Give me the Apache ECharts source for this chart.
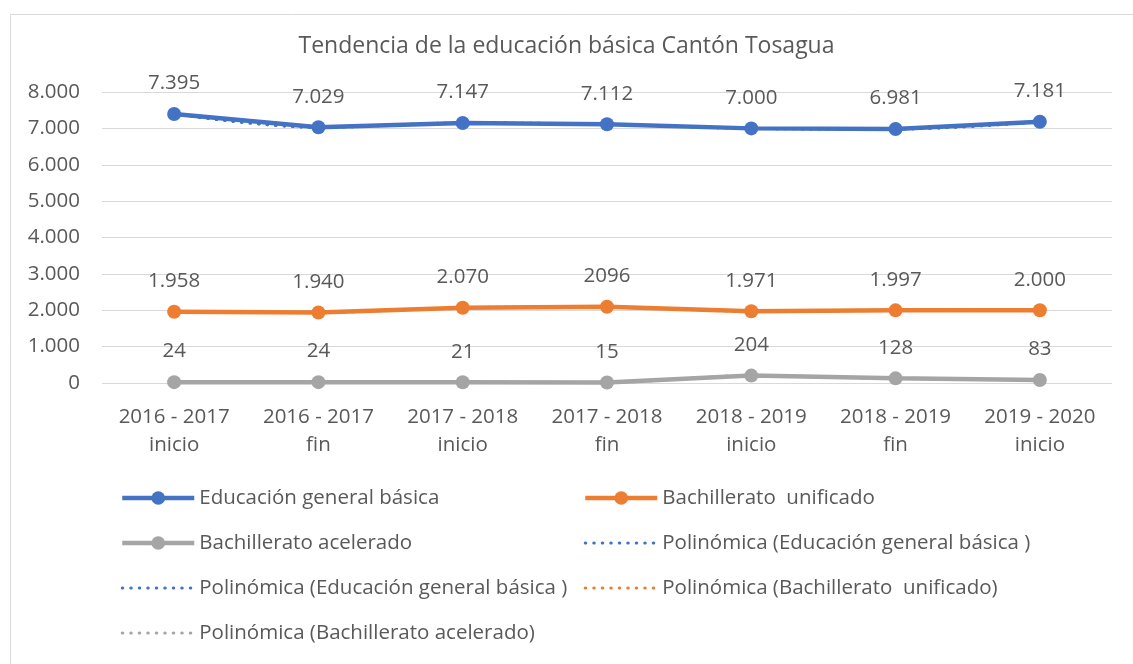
<!DOCTYPE html>
<html>
<head>
<meta charset="utf-8">
<script src="https://cdn.jsdelivr.net/npm/echarts@6/dist/echarts.min.js"></script>
<style>
  html, body { margin: 0; padding: 0; background: #ffffff; }
  #chart { width: 1133px; height: 664px; }
</style>
</head>
<body>
<div id="chart"></div>
<script>
// School years and semester phase for each measurement
const periods = ['2016 - 2017', '2016 - 2017', '2017 - 2018', '2017 - 2018', '2018 - 2019', '2018 - 2019', '2019 - 2020'];
const phases = ['inicio', 'fin', 'inicio', 'fin', 'inicio', 'fin', 'inicio'];

// Enrolment per education level
const educacionGeneralBasica = [7395, 7029, 7147, 7112, 7000, 6981, 7181];
const bachilleratoUnificado = [1958, 1940, 2070, 2096, 1971, 1997, 2000];
const bachilleratoAcelerado = [24, 24, 21, 15, 204, 128, 83];

// Points whose label is printed without a thousands separator
const plainLabelIdx = { 'Bachillerato  unificado': [3] };

// Y axis ticks
const yMin = 0, yMax = 8000, yStep = 1000;

const FONT = '"Open Sans", "Noto Sans", sans-serif';
const TXT = '#595959';
const C_BLUE = '#4472C4', C_ORANGE = '#ED7D31', C_GRAY = '#A5A5A5';

const categories = periods.map((p, i) => p + '\n' + phases[i]);

function fmt(v) {
  return String(v).replace(/\B(?=(\d{3})+(?!\d))/g, '.');
}

function mainSeries(name, data, color) {
  const plain = plainLabelIdx[name] || [];
  return {
    name: name,
    type: 'line',
    data: data,
    z: 3,
    symbol: 'circle',
    symbolSize: 14,
    lineStyle: { color: color, width: 4.5 },
    itemStyle: { color: color },
    label: {
      show: true,
      position: 'top',
      distance: 13,
      color: TXT,
      fontFamily: FONT,
      fontSize: 20.5,
      formatter: p => plain.indexOf(p.dataIndex) >= 0 ? String(p.value) : fmt(p.value)
    }
  };
}

// Round-dotted stroke used by the trend curves
const DOTS = [0.5, 8];

function trendSeries(name, data, color) {
  return {
    name: name,
    type: 'line',
    data: data,
    z: 4,
    smooth: 0.35,
    symbol: 'none',
    lineStyle: { color: color, width: 3, type: DOTS, cap: 'round' },
    itemStyle: { color: color },
    emphasis: { disabled: true }
  };
}

const nEGB = 'Educación general básica';
const nBU = 'Bachillerato  unificado';
const nBA = 'Bachillerato acelerado';
const tEGB1 = 'Polinómica (Educación general básica )';
const tEGB2 = 'Polinómica (Educación general básica ) ';
const tBU = 'Polinómica (Bachillerato  unificado)';
const tBA = 'Polinómica (Bachillerato acelerado)';

// Legend entries: solid series keep their thick line, trend lines show only the dotted stroke
const solidItem = n => ({ name: n, lineStyle: { width: 'inherit' } });
const dottedItem = n => ({
  name: n,
  itemStyle: { opacity: 0 },
  lineStyle: { width: 3, type: DOTS, cap: 'round' }
});

const legendCommon = {
  orient: 'vertical',
  padding: 0,
  itemWidth: 72,
  itemHeight: 17,
  itemGap: 21,
  textStyle: { color: TXT, fontFamily: FONT, fontSize: 20.5, lineHeight: 24 },
  selectedMode: false
};

const chart = echarts.init(document.getElementById('chart'), null, { renderer: 'canvas' });
chart.setOption({
  animation: false,
  backgroundColor: '#ffffff',
  title: {
    text: 'Tendencia de la educación básica Cantón Tosagua',
    left: 'center',
    top: 30,
    textStyle: { color: TXT, fontFamily: FONT, fontSize: 23, fontWeight: 'normal' }
  },
  graphic: [{
    type: 'rect',
    shape: { x: 10.5, y: 14.5, width: 1130, height: 660 },
    style: { fill: 'none', stroke: '#d9d9d9', lineWidth: 1 },
    silent: true
  }],
  grid: { left: 102, right: 21, top: 92, bottom: 281 },
  xAxis: {
    type: 'category',
    data: categories,
    boundaryGap: true,
    axisLine: { show: false },
    axisTick: { show: false },
    axisLabel: { interval: 0, color: TXT, fontFamily: FONT, fontSize: 20.5, lineHeight: 28, margin: 20 }
  },
  yAxis: {
    type: 'value',
    min: yMin,
    max: yMax,
    interval: yStep,
    axisLine: { show: false },
    axisTick: { show: false },
    splitLine: { lineStyle: { color: '#d9d9d9', width: 1 } },
    axisLabel: { color: TXT, fontFamily: FONT, fontSize: 20.5, margin: 22, formatter: v => fmt(v) }
  },
  legend: [
    Object.assign({ left: 120, top: 486, data: [solidItem(nEGB), solidItem(nBA), dottedItem(tEGB1), dottedItem(tBA)] }, legendCommon),
    Object.assign({ left: 583, top: 486, data: [solidItem(nBU), dottedItem(tEGB2), dottedItem(tBU)] }, legendCommon)
  ],
  series: [
    mainSeries(nEGB, educacionGeneralBasica, C_BLUE),
    mainSeries(nBU, bachilleratoUnificado, C_ORANGE),
    mainSeries(nBA, bachilleratoAcelerado, C_GRAY),
    trendSeries(tEGB1, educacionGeneralBasica, C_BLUE),
    trendSeries(tEGB2, educacionGeneralBasica, C_BLUE),
    trendSeries(tBU, bachilleratoUnificado, C_ORANGE),
    trendSeries(tBA, bachilleratoAcelerado, C_GRAY)
  ]
});
</script>
</body>
</html>
